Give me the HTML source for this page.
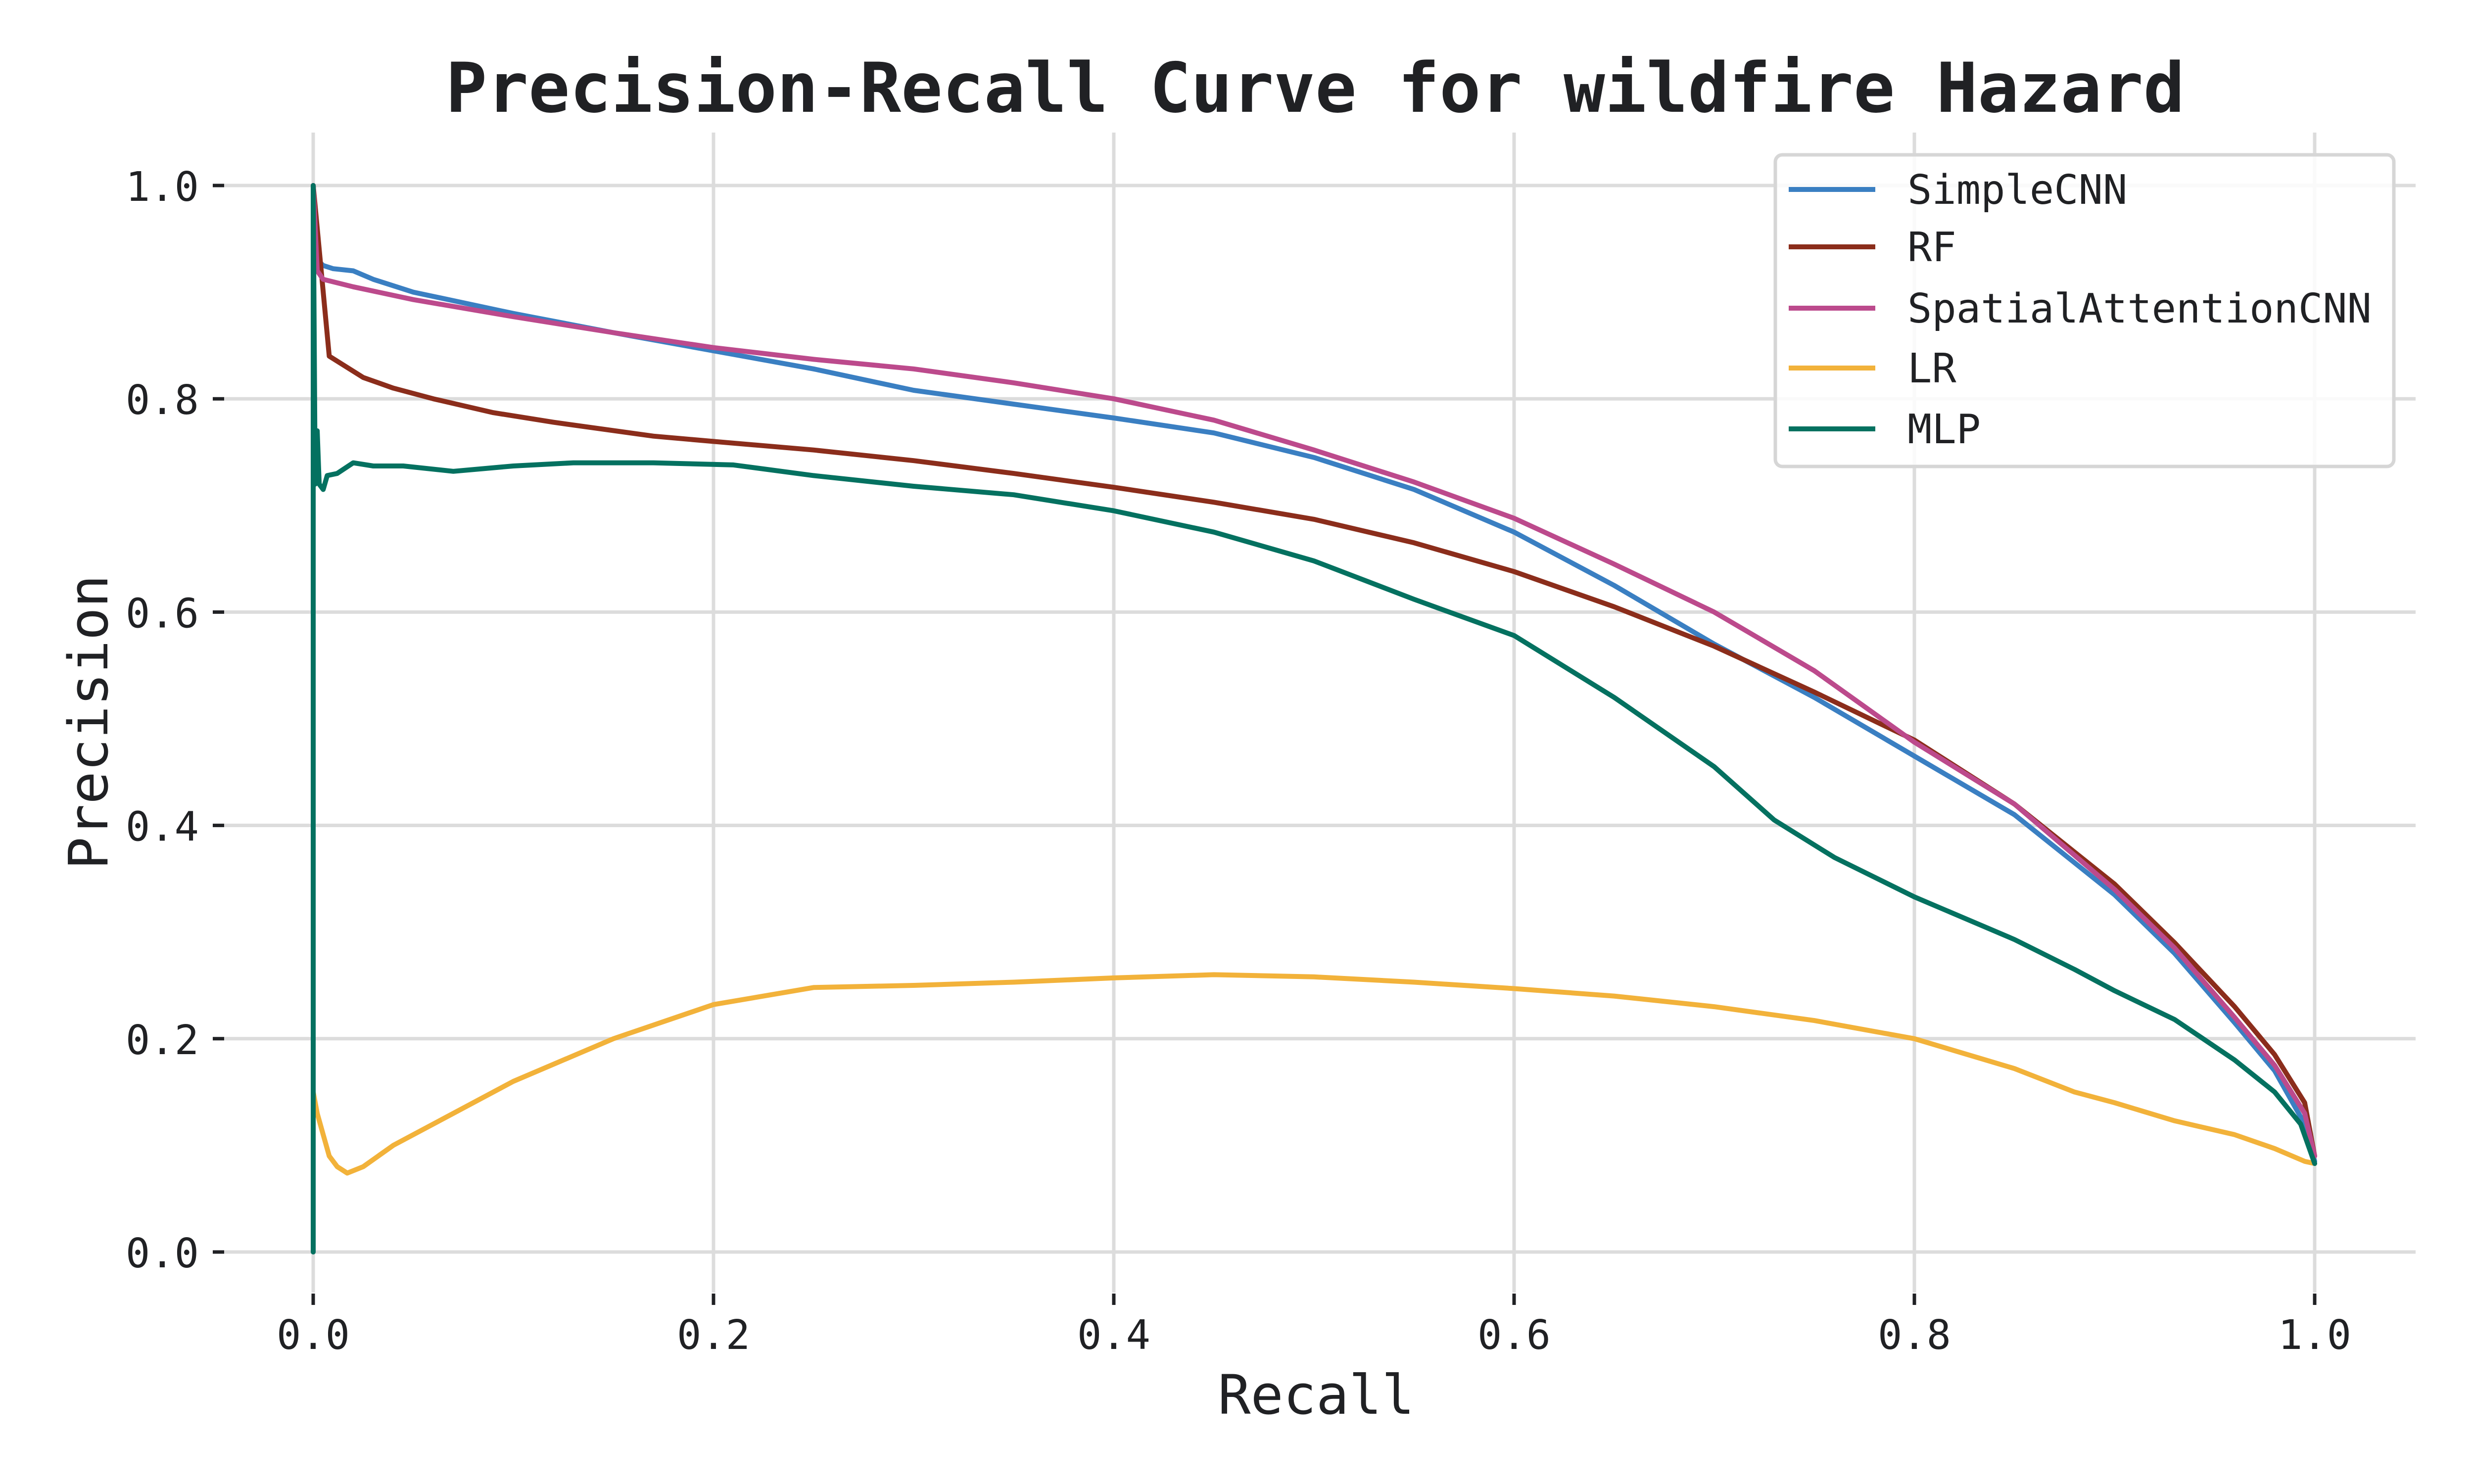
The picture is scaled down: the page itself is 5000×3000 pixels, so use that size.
<!DOCTYPE html>
<html><head><meta charset="utf-8"><style>
html,body{margin:0;padding:0;background:#fff;}
svg{display:block;font-family:"DejaVu Sans Mono","Liberation Mono",monospace;}
</style></head><body>
<svg id="chart" width="5000" height="3000" viewBox="0 0 5000 3000" xmlns="http://www.w3.org/2000/svg">
<rect width="5000" height="3000" fill="#fff"/>
<text x="2658" y="226" text-anchor="middle" font-size="139" font-weight="bold" fill="#202124">Precision-Recall Curve for wildfire Hazard</text>
<g id="grid"></g><g id="ticks"></g><g id="series"></g>
<text x="2660" y="2858" text-anchor="middle" font-size="110" fill="#202124">Recall</text>
<text transform="translate(217,1460) rotate(-90)" text-anchor="middle" font-size="110" fill="#202124">Precision</text>
<g id="legend"></g>
</svg>
<script>
const xTicks=[0,0.2,0.4,0.6,0.8,1.0];
const yTicks=[0,0.2,0.4,0.6,0.8,1.0];
const tickLabels=["0.0","0.2","0.4","0.6","0.8","1.0"];
const seriesNames=["SimpleCNN","RF","SpatialAttentionCNN","LR","MLP"];
const seriesColors=["#3a7fc2","#8b2d1b","#bc4a8c","#f2b23a","#047160"];
const cnnX=[0,0.002,0.005,0.01,0.02,0.03,0.05,0.1,0.15,0.2,0.25,0.3,0.35,0.4,0.45,0.5,0.55,0.6,0.65,0.7,0.75,0.8,0.85,0.9,0.93,0.96,0.98,0.995,1.0];
const cnnY=[1.0,0.93,0.925,0.922,0.92,0.912,0.9,0.88,0.862,0.845,0.828,0.808,0.795,0.782,0.768,0.745,0.715,0.675,0.625,0.57,0.52,0.465,0.41,0.335,0.28,0.215,0.17,0.12,0.085];
const rfX=[0,0.008,0.025,0.04,0.06,0.09,0.12,0.17,0.2,0.25,0.3,0.35,0.4,0.45,0.5,0.55,0.6,0.65,0.7,0.75,0.8,0.85,0.9,0.93,0.96,0.98,0.995,1.0];
const rfY=[1.0,0.84,0.82,0.81,0.8,0.787,0.778,0.765,0.76,0.752,0.742,0.73,0.717,0.703,0.687,0.665,0.638,0.605,0.568,0.525,0.48,0.42,0.345,0.29,0.23,0.185,0.14,0.09];
const sacX=[0,0.002,0.005,0.02,0.05,0.1,0.15,0.2,0.25,0.3,0.35,0.4,0.45,0.5,0.55,0.6,0.65,0.7,0.75,0.8,0.85,0.9,0.93,0.96,0.98,0.995,1.0];
const sacY=[1.0,0.92,0.912,0.905,0.893,0.877,0.862,0.848,0.837,0.828,0.815,0.8,0.78,0.752,0.722,0.688,0.645,0.6,0.545,0.478,0.42,0.34,0.285,0.22,0.175,0.13,0.09];
const lrX=[0,0.002,0.005,0.008,0.012,0.017,0.025,0.04,0.07,0.1,0.15,0.2,0.25,0.3,0.35,0.4,0.45,0.5,0.55,0.6,0.65,0.7,0.75,0.8,0.85,0.88,0.9,0.93,0.96,0.98,0.995,1.0];
const lrY=[0.15,0.13,0.11,0.09,0.08,0.074,0.08,0.1,0.13,0.16,0.2,0.232,0.248,0.25,0.253,0.257,0.26,0.258,0.253,0.247,0.24,0.23,0.217,0.2,0.172,0.15,0.14,0.123,0.11,0.097,0.085,0.083];
const mlpX=[0,0,0.001,0.002,0.003,0.005,0.007,0.012,0.02,0.03,0.045,0.07,0.1,0.13,0.17,0.21,0.25,0.3,0.35,0.4,0.45,0.5,0.55,0.6,0.65,0.7,0.73,0.76,0.8,0.85,0.88,0.9,0.93,0.96,0.98,0.993,1.0];
const mlpY=[0,1.0,0.72,0.77,0.72,0.715,0.728,0.73,0.74,0.737,0.737,0.732,0.737,0.74,0.74,0.738,0.728,0.718,0.71,0.695,0.675,0.648,0.612,0.578,0.52,0.455,0.405,0.37,0.333,0.293,0.265,0.245,0.218,0.18,0.15,0.12,0.083];
const allX=[cnnX,rfX,sacX,lrX,mlpX], allY=[cnnY,rfY,sacY,lrY,mlpY];
const NS="http://www.w3.org/2000/svg";
const X0=633,X1=4678,Y0=2531,Y1=375;
function sx(v){return X0+v*(X1-X0);}
function sy(v){return Y0-v*(Y0-Y1);}
function mk(tag,attrs,parent){const e=document.createElementNS(NS,tag);for(const k in attrs)e.setAttribute(k,attrs[k]);parent.appendChild(e);return e;}
const grid=document.getElementById('grid'),ticks=document.getElementById('ticks'),ser=document.getElementById('series'),leg=document.getElementById('legend');
xTicks.forEach((v,i)=>{
  const g=mk('line',{x1:sx(v),x2:sx(v),y1:268,y2:2613,stroke:'#dcdcdc','stroke-width':7},grid);
  
  
  const t=mk('line',{x1:sx(v),x2:sx(v),y1:2615,y2:2638,stroke:'#202124','stroke-width':7},ticks);
  
  
  const l=mk('text',{x:sx(v),y:2727,'text-anchor':'middle','font-size':82,fill:'#202124'},ticks);
  l.textContent=tickLabels[i];
  
  
});
yTicks.forEach((v,i)=>{
  const g=mk('line',{x1:453,x2:4882,y1:sy(v),y2:sy(v),stroke:'#dcdcdc','stroke-width':7},grid);
  
  
  const t=mk('line',{x1:430,x2:453,y1:sy(v),y2:sy(v),stroke:'#202124','stroke-width':7},ticks);
  
  
  const l=mk('text',{x:402,y:sy(v)+31,'text-anchor':'end','font-size':82,fill:'#202124'},ticks);
  l.textContent=tickLabels[i];
  
  
});
allX.forEach((xs,s)=>{
  const d=xs.map((x,i)=>(i?'L':'M')+sx(x).toFixed(1)+','+sy(allY[s][i]).toFixed(1)).join(' ');
  const p=mk('path',{d:d,fill:'none',stroke:seriesColors[s],'stroke-width':10,'stroke-linejoin':'round','stroke-linecap':'round'},ser);
  
  
});
const box=mk('rect',{x:3588,y:313,width:1250,height:630,rx:14,fill:'#fff','fill-opacity':0.85,stroke:'#d6d6d6','stroke-width':7},leg);


const rowsY=[383,499,623,744,867];
seriesNames.forEach((n,i)=>{
  const ln=mk('line',{x1:3615,x2:3790,y1:rowsY[i],y2:rowsY[i],stroke:seriesColors[i],'stroke-width':10},leg);
  
  
  const t=mk('text',{x:3855,y:rowsY[i]+29,'font-size':82,fill:'#202124'},leg);
  t.textContent=n;
  
  
});
</script>
</body></html>
